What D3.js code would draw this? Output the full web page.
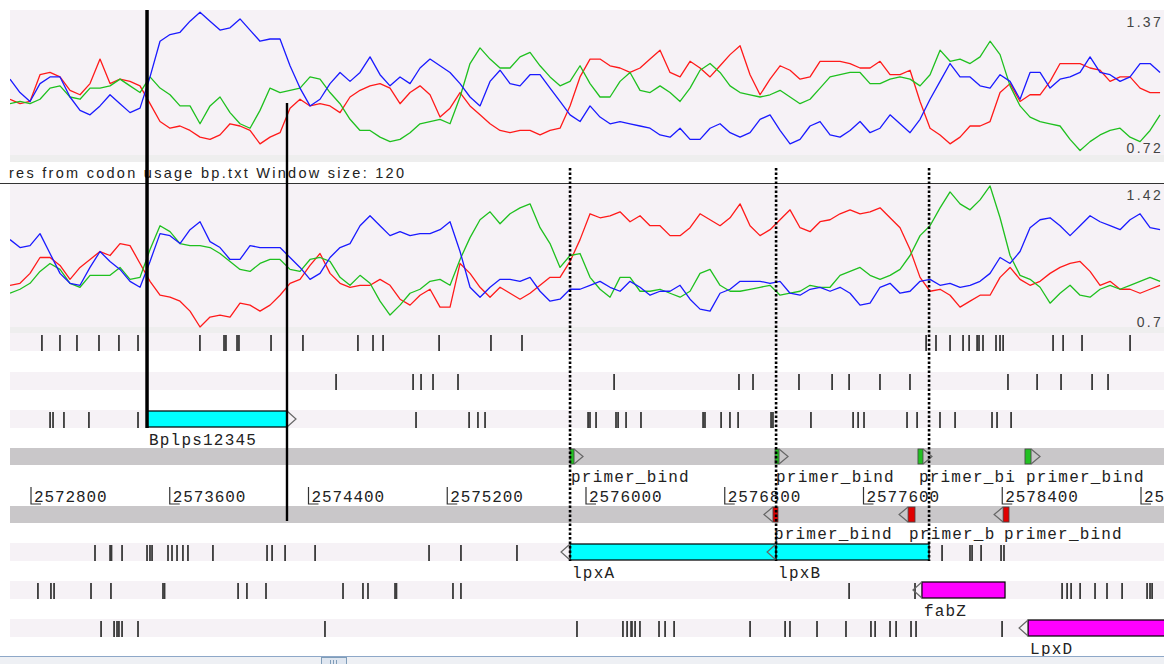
<!DOCTYPE html>
<html>
<head>
<meta charset="utf-8">
<script src="https://cdn.jsdelivr.net/npm/d3@7"></script>
<style>
body { margin: 0; background: #fff; }
svg { display: block; }
</style>
</head>
<body>
<svg width="1164" height="664"></svg>
<script>
// window positions (bp) of the codon usage scores
const windowStart = 2572679, windowStep = 57.66

const redTop = [0.97,0.95,0.96,1.08,1.09,1.07,1.01,0.99,1.04,1.15, 1.04,1.06,1.05,1.03,0.95,0.87,0.84,0.85,0.83,0.80, 0.79,0.81,0.86,0.85,0.83,0.77,0.80,0.82,0.93,0.97, 0.94,0.95,0.94,0.91,0.98,1.01,1.03,1.04,1.02,0.95, 1.00,1.03,0.99,0.89,0.93,1.00,0.94,0.90,0.86,0.83, 0.82,0.83,0.83,0.81,0.83,0.84,0.94,1.07,1.15,1.15, 1.12,1.11,1.09,1.11,1.15,1.19,1.09,1.07,1.14,1.11, 1.07,1.12,1.17,1.21,1.08,0.99,1.06,1.12,1.10,1.06, 1.07,1.14,1.14,1.14,1.13,1.11,1.11,1.14,1.08,1.08, 1.10,0.96,0.84,0.81,0.77,0.80,0.85,0.85,0.87,1.00, 1.04,0.96,0.99,0.99,1.05,1.13,1.13,1.13,1.11,1.10, 1.05,1.07,1.07,1.02,1.00,1.00]
const greenTop = [0.95,0.96,0.95,0.97,1.02,1.03,0.98,0.97,1.02,1.02, 1.03,1.06,1.03,1.00,1.07,1.02,0.99,0.94,0.94,0.86, 0.94,0.98,0.91,0.86,0.84,0.92,1.02,1.00,1.01,1.02, 1.07,1.06,1.00,0.95,0.88,0.83,0.83,0.80,0.78,0.79, 0.82,0.86,0.87,0.88,0.86,0.98,1.13,1.20,1.15,1.11, 1.11,1.16,1.18,1.12,1.07,1.03,1.05,1.12,1.04,0.98, 0.98,1.05,1.09,1.01,1.00,1.03,1.00,0.96,1.02,1.10, 1.13,1.09,1.03,1.00,0.99,0.98,0.99,1.01,0.98,0.95, 0.97,1.02,1.07,1.08,1.09,1.09,1.04,1.04,1.06,1.07, 1.06,1.03,1.08,1.19,1.14,1.15,1.13,1.16,1.23,1.17, 1.03,0.94,0.89,0.87,0.86,0.85,0.79,0.74,0.78,0.81, 0.83,0.84,0.80,0.78,0.83,0.90]
const blueTop = [1.06,1.00,0.96,1.04,1.07,1.07,0.98,0.92,0.90,0.94, 0.99,0.95,0.91,0.93,1.07,1.23,1.26,1.27,1.32,1.36, 1.32,1.28,1.29,1.33,1.28,1.23,1.24,1.24,1.12,1.02, 0.94,0.97,1.04,1.09,1.05,1.09,1.16,1.08,1.03,1.07, 1.04,1.11,1.15,1.12,1.09,1.04,0.98,0.94,1.05,1.10, 1.04,1.03,1.08,1.08,1.02,0.96,0.90,0.87,0.94,0.89, 0.86,0.87,0.86,0.85,0.84,0.81,0.80,0.84,0.79,0.79, 0.84,0.86,0.82,0.80,0.82,0.88,0.90,0.83,0.77,0.79, 0.85,0.87,0.81,0.80,0.83,0.87,0.82,0.84,0.90,0.86, 0.82,0.88,0.97,1.05,1.13,1.07,1.07,1.03,1.02,1.08, 1.05,0.97,1.09,1.09,1.02,1.06,1.07,1.09,1.16,1.09, 1.08,1.05,1.07,1.13,1.13,1.09]

const redBottom = [0.91,0.92,0.97,1.05,1.05,1.01,0.94,1.00,1.04,1.08, 1.06,1.12,1.11,1.02,0.93,0.86,0.85,0.83,0.78,0.70, 0.75,0.76,0.75,0.82,0.81,0.78,0.81,0.86,0.92,0.94, 1.01,1.07,0.97,0.92,0.90,0.91,0.91,0.94,0.91,0.84, 0.81,0.86,0.89,0.80,0.80,1.02,0.97,0.90,0.85,0.90, 0.87,0.84,0.87,0.91,0.95,0.95,1.03,1.14,1.27,1.25, 1.26,1.28,1.23,1.26,1.21,1.21,1.16,1.16,1.20,1.27, 1.24,1.21,1.25,1.32,1.21,1.16,1.19,1.24,1.29,1.20, 1.18,1.23,1.24,1.27,1.29,1.27,1.28,1.30,1.25,1.20, 1.09,0.95,0.88,0.89,0.86,0.80,0.83,0.86,0.86,0.95, 1.00,0.94,0.91,0.93,0.97,1.00,1.02,1.03,0.98,0.91, 0.93,0.89,0.89,0.87,0.89,0.91]
const greenBottom = [0.87,0.89,0.92,0.98,1.02,0.99,0.92,0.90,0.96,0.96, 0.96,1.00,0.94,0.95,1.09,1.21,1.18,1.12,1.11,1.11, 1.10,1.07,1.03,0.99,0.98,1.02,1.04,1.04,0.99,0.98, 1.04,1.05,1.03,0.95,0.91,0.96,0.92,0.83,0.76,0.81, 0.87,0.89,0.93,0.94,0.91,1.04,1.15,1.24,1.28,1.22, 1.27,1.30,1.32,1.20,1.12,1.00,1.06,1.07,0.95,0.89, 0.85,0.95,0.95,0.88,0.88,0.89,0.87,0.85,0.88,0.97, 0.99,0.91,0.88,0.88,0.89,0.90,0.91,0.86,0.87,0.88, 0.91,0.90,0.90,0.96,0.98,1.00,0.96,0.94,0.96,0.99, 1.06,1.16,1.21,1.30,1.38,1.32,1.29,1.34,1.41,1.25, 1.06,0.96,0.94,0.90,0.82,0.87,0.91,0.86,0.85,0.89, 0.91,0.89,0.91,0.93,0.95,0.93]
const blueBottom = [1.14,1.10,1.11,1.17,1.07,0.97,0.92,0.91,1.00,1.08, 1.03,0.99,0.93,0.90,1.03,1.17,1.16,1.12,1.19,1.23, 1.13,1.10,1.04,1.04,1.11,1.10,1.10,1.10,1.05,1.00, 0.94,0.97,1.05,1.10,1.12,1.21,1.26,1.21,1.16,1.18, 1.16,1.17,1.17,1.19,1.23,1.08,0.90,0.85,0.90,0.94, 0.94,0.93,0.95,0.88,0.83,0.84,0.89,0.89,0.91,0.93, 0.90,0.88,0.93,0.90,0.86,0.88,0.88,0.91,0.84,0.79, 0.78,0.87,0.89,0.93,0.93,0.93,0.92,0.93,0.87,0.86, 0.89,0.90,0.88,0.90,0.87,0.81,0.82,0.90,0.92,0.87, 0.88,0.93,0.94,0.91,0.92,0.90,0.91,0.93,0.97,1.05, 1.02,1.08,1.20,1.24,1.25,1.21,1.16,1.21,1.26,1.23, 1.21,1.19,1.24,1.27,1.20,1.19]

const topRange = [0.72, 1.37], bottomRange = [0.70, 1.42]
const graphTitle = "res from codon usage bp.txt  Window size: 120"

// stop codons per frame line
const stopsF1 = [2572863,2572967,2573065,2573192,2573307,2573417,2573774,2573913,2573924,2573988,2573999,2574184,2574368,2574685,2574772,2574830,2575153,2575452,2575631,2577961,2578018,2578099,2578174,2578209,2578255,2578266,2578289,2578364,2578387,2578405,2578693,2578751,2578860,2579137]
const stopsF2 = [2574559,2575003,2575049,2575118,2575262,2576162,2576882,2576963,2577228,2577419,2577517,2577695,2577868,2578433,2578601,2578739,2578918,2579010]
const stopsF3 = [2572910,2572927,2572990,2573134,2573417,2575020,2575326,2575377,2575418,2576012,2576023,2576058,2576173,2576185,2576231,2576317,2576675,2576686,2576779,2576830,2576877,2577067,2577078,2577297,2577540,2577569,2577603,2577851,2577909,2578041,2578128,2578341,2578370,2578451]
const stopsR1 = [2573169,2573256,2573264,2573325,2573469,2573486,2573498,2573590,2573613,2573642,2573676,2573705,2573849,2574161,2574190,2574265,2574438,2575095,2575279,2575602,2578053,2578214,2578226,2578278,2578393,2578410]
const stopsR2 = [2572840,2572915,2572933,2573146,2573261,2573561,2573570,2573994,2574045,2574155,2574599,2574714,2574743,2574899,2574907,2575233,2575279,2577517,2577897,2578745,2578774,2578797,2578849,2578935,2579004,2579091,2579235,2579252,2579264]
const stopsR3 = [2573204,2573279,2573296,2573307,2573325,2573417,2574495,2575948,2576213,2576237,2576260,2576265,2576283,2576311,2576421,2576456,2576508,2576946,2577148,2577176,2577332,2577499,2577643,2577667,2577753,2577788,2577874,2577903,2578399]

const geneNames = ["Bplps12345", "lpxA", "lpxB", "fabZ", "LpxD"]
const geneStarts = [2573469, 2575908, 2577096, 2577937, 2578549]
const geneEnds = [2574276, 2577096, 2577978, 2578416, 2579800]
const geneFrames = ["f3", "r1", "r1", "r2", "r3"]

const fwdPrimerStarts = [2575908, 2577090, 2577914, 2578531]
const fwdPrimerEnds = [2575931, 2577113, 2577943, 2578566]
const revPrimerStarts = [2577078, 2577857, 2578405]
const revPrimerEnds = [2577107, 2577897, 2578439]
const primerLabel = "primer_bind"

const rulerTicks = [2572800, 2573600, 2574400, 2575200, 2576000, 2576800, 2577600, 2578400, 2579200]

const W = 1164, left = 10
const svg = d3.select("svg")
const xs = d3.scaleLinear().domain([2572800, 2579200]).range([31, 1141])
const yTop = d3.scaleLinear().domain(topRange).range([155, 10])
const yBot = d3.scaleLinear().domain(bottomRange).range([327, 184])
const mono = "'Liberation Mono', 'Courier New', monospace"
const charW = 10.8

const defs = svg.append("defs")
defs.append("clipPath").attr("id", "clipTop").append("rect").attr("x", left).attr("y", 8).attr("width", W - left).attr("height", 150)
defs.append("clipPath").attr("id", "clipBot").append("rect").attr("x", left).attr("y", 184).attr("width", W - left).attr("height", 145)

// graph backgrounds
const band = (y, h, fill) => svg.append("rect").attr("x", left).attr("y", y).attr("width", W - left).attr("height", h).attr("fill", fill)
band(10, 145, "#f6f2f6")
band(155, 7, "#eeeeee")
band(184, 143, "#f6f2f6")
band(327, 6, "#eeeeee")

const drawGraph = (clip, yscale, series) => {
    let g = svg.append("g").attr("clip-path", `url(#${clip})`)
    let line = d3.line().x((d, i) => xs(windowStart + i * windowStep)).y(d => yscale(d))
    series.forEach(s => {
        g.append("path")
            .datum(s.values)
            .attr("d", line)
            .attr("fill", "none")
            .attr("stroke", s.colour)
            .attr("stroke-width", 1.3)
            .attr("stroke-linejoin", "round")
    })
}

drawGraph("clipTop", yTop, [
    {values: redTop, colour: "#ff1a1a"},
    {values: greenTop, colour: "#1fc01f"},
    {values: blueTop, colour: "#1a1aff"}
])
drawGraph("clipBot", yBot, [
    {values: redBottom, colour: "#ff1a1a"},
    {values: greenBottom, colour: "#1fc01f"},
    {values: blueBottom, colour: "#1a1aff"}
])

const valueLabel = (txt, y) => svg.append("text")
    .attr("x", 1163).attr("y", y)
    .attr("text-anchor", "end")
    .attr("font-family", "'Liberation Sans', Arial, sans-serif")
    .attr("font-size", 14)
    .attr("letter-spacing", 2.3)
    .attr("fill", "#444")
    .text(txt)
valueLabel(topRange[1].toFixed(2), 27)
valueLabel(topRange[0].toFixed(2), 153)
valueLabel(bottomRange[1].toFixed(2), 200)
valueLabel(String(bottomRange[0]), 327)

svg.append("text")
    .attr("x", 9).attr("y", 178)
    .attr("font-family", "'Liberation Sans', Arial, sans-serif")
    .attr("font-size", 14.5)
    .attr("textLength", 395)
    .attr("lengthAdjust", "spacing")
    .attr("fill", "#222")
    .text(graphTitle)
svg.append("line").attr("x1", 0).attr("x2", W).attr("y1", 183.5).attr("y2", 183.5).attr("stroke", "#333")

// feature display rows
const rowTop = {f1: 333, f2: 372, f3: 410, r1: 543, r2: 581, r3: 619}
const rowH = 18
Object.values(rowTop).forEach(y => band(y, rowH, "#f6f2f6"))
band(448, 17, "#c9c7c9")
band(506, 17, "#c9c7c9")

const stopRows = [[stopsF1, "f1"], [stopsF2, "f2"], [stopsF3, "f3"], [stopsR1, "r1"], [stopsR2, "r2"], [stopsR3, "r3"]]
stopRows.forEach(([stops, row]) => {
    svg.append("g").selectAll("line")
        .data(stops)
        .join("line")
        .attr("x1", d => xs(d)).attr("x2", d => xs(d))
        .attr("y1", rowTop[row] + 2).attr("y2", rowTop[row] + rowH)
        .attr("stroke", "#3a3a3a")
        .attr("stroke-width", 1.8)
})

const label = (txt, x, y, maxW) => {
    let n = maxW ? Math.max(0, Math.floor(maxW / charW)) : txt.length
    svg.append("text")
        .attr("x", x).attr("y", y)
        .attr("font-family", mono)
        .attr("font-size", 16)
        .attr("letter-spacing", 1.2)
        .attr("fill", "#222")
        .text(txt.slice(0, n))
}

const arrow = (x, top, h, dir) => svg.append("path")
    .attr("d", `M${x},${top} L${x + dir * 9},${top + h / 2} L${x},${top + h}`)
    .attr("fill", "none")
    .attr("stroke", "#666")
    .attr("stroke-width", 1.2)

const geneFill = {Bplps12345: "#00ffff", lpxA: "#00ffff", lpxB: "#00ffff", fabZ: "#ff00ff", LpxD: "#ff00ff"}
geneNames.forEach((name, i) => {
    let top = rowTop[geneFrames[i]] + 1, x0 = xs(geneStarts[i]), x1 = xs(geneEnds[i])
    let fwd = geneFrames[i][0] === "f"
    svg.append("rect")
        .attr("x", x0).attr("y", top)
        .attr("width", x1 - x0).attr("height", 16)
        .attr("fill", geneFill[name])
        .attr("stroke", "#000")
        .attr("stroke-width", 1.2)
    if (fwd) arrow(x1, top, 16, 1)
    else arrow(x0, top, 16, -1)
    label(name, x0 + 2, top + 34)
})

const drawPrimers = (starts, ends, top, dir, fill, labelY) => {
    starts.forEach((s, i) => {
        let x0 = xs(s), x1 = xs(ends[i])
        svg.append("rect")
            .attr("x", x0).attr("y", top + 1)
            .attr("width", x1 - x0).attr("height", 15)
            .attr("fill", fill)
            .attr("stroke", "#444")
            .attr("stroke-width", 0.8)
        if (dir > 0) arrow(x1, top + 1, 15, 1)
        else arrow(x0, top + 1, 15, -1)
        let next = starts[i + 1]
        label(primerLabel, x0 + 1, labelY, next ? xs(next) - x0 : null)
    })
}
drawPrimers(fwdPrimerStarts, fwdPrimerEnds, 448, 1, "#22c022", 482)
drawPrimers(revPrimerStarts, revPrimerEnds, 506, -1, "#e00000", 539)

// ruler
rulerTicks.forEach(t => {
    let x = xs(t)
    svg.append("path")
        .attr("d", `M${x},487 L${x},504 L${x + 10},504`)
        .attr("fill", "none")
        .attr("stroke", "#333")
        .attr("stroke-width", 1.2)
    svg.append("text")
        .attr("x", x + 3).attr("y", 502)
        .attr("font-family", mono)
        .attr("font-size", 16)
        .attr("letter-spacing", 0.9)
        .attr("fill", "#222")
        .text(t)
})

// selection markers
const gi = name => geneNames.indexOf(name)
const marker = (bp, y1, y2, w, dash) => {
    let l = svg.append("line")
        .attr("x1", xs(bp)).attr("x2", xs(bp))
        .attr("y1", y1).attr("y2", y2)
        .attr("stroke", "#000")
        .attr("stroke-width", w)
    if (dash) l.attr("stroke-dasharray", dash)
}
marker(geneStarts[gi("Bplps12345")], 10, 428, 3.5)
marker(geneEnds[gi("Bplps12345")], 103, 521, 2.4)
marker(geneStarts[gi("lpxA")], 168, 561, 2.6, "2.5,2")
marker(geneEnds[gi("lpxA")], 168, 561, 2.6, "2.5,2")
marker(geneEnds[gi("lpxB")], 168, 561, 2.6, "2.5,2")

// scrollbar
svg.append("rect").attr("x", 0).attr("y", 656).attr("width", W).attr("height", 8).attr("fill", "#eef0f4")
svg.append("line").attr("x1", 0).attr("x2", W).attr("y1", 656.5).attr("y2", 656.5).attr("stroke", "#8ea8c8")
svg.append("rect").attr("x", 321.5).attr("y", 657.5).attr("width", 25).attr("height", 10).attr("fill", "#dfe6f0").attr("stroke", "#7f9db9")
;[330, 333, 336].forEach(x => svg.append("line").attr("x1", x + 0.5).attr("x2", x + 0.5).attr("y1", 660).attr("y2", 664).attr("stroke", "#7f9db9"))
</script>
</body>
</html>
